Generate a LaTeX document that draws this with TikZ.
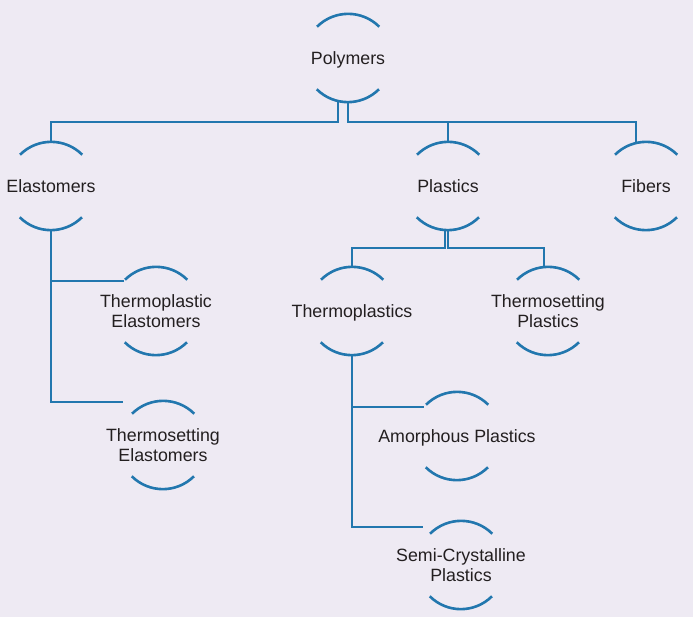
\documentclass[tikz,border=0pt]{standalone}
\usepackage{fontspec}
\setmainfont{Liberation Sans}
\usetikzlibrary{calc}
\definecolor{bgcol}{HTML}{EEEAF3}
\definecolor{linecol}{HTML}{2277AE}
\definecolor{txtcol}{HTML}{231F20}
\begin{document}
\begin{tikzpicture}[x=1pt,y=-1pt,
  bub/.style={circle, minimum size=88pt, inner sep=0pt, draw=none},
  every label/.style={align=center, text=txtcol, inner sep=0pt,
    font=\fontsize{17.8pt}{20.5pt}\selectfont},
  oneline/.style={text depth=0pt},
  arcline/.style={draw=linecol, line width=2.6pt},
  conn/.style={draw=linecol, line width=2.6pt}]
  \fill[bgcol] (0,0) rectangle (693,617);
  \useasboundingbox (0,0) rectangle (693,617);

  % bubbles
  \node[bub, label={[oneline]center:{Polymers}}] (poly) at (348,58) {};
  \node[bub, label={[oneline]center:{Elastomers}}] (elas) at (51,186) {};
  \node[bub, label={[oneline]center:{Plastics}}] (plas) at (448,186) {};
  \node[bub, label={[oneline]center:{Fibers}}] (fib) at (646,186) {};
  \node[bub, label=center:{Thermoplastic\\Elastomers}] (tpe) at (156,311) {};
  \node[bub, label=center:{Thermosetting\\Elastomers}] (tse) at (163,445) {};
  \node[bub, label={[oneline]center:{Thermoplastics}}] (tp) at (352,311) {};
  \node[bub, label=center:{Thermosetting\\Plastics}] (tsp) at (548,311) {};
  \node[bub, label={[oneline]center:{Amorphous Plastics}}] (amor) at (457,436) {};
  \node[bub, label=center:{Semi-Crystalline\\Plastics}] (semi) at (461,565) {};

  % open arcs above and below each label
  \foreach \n in {poly,elas,plas,fib,tpe,tse,tp,tsp,amor,semi} {
    \draw[arcline] (\n.45) arc[start angle=45, end angle=135, radius=44pt];
    \draw[arcline] (\n.225) arc[start angle=225, end angle=315, radius=44pt];
  }

  % connectors
  \draw[conn] ($(poly.south)+(-10,0)$) -- ++(0,20) -| (elas.north);
  \draw[conn] (poly.south) -- ++(0,20) -| (plas.north);
  \draw[conn] (poly.south) -- ++(0,20) -| (fib.103);

  \draw[conn] ($(plas.south)+(-3,0)$) -- ++(0,18) -| (tp.north);
  \draw[conn] (plas.south) -- ++(0,18) -| (tsp.95);

  \draw[conn] (elas.south) |- (tpe.137);
  \draw[conn] (elas.south) |- ($(tse.north)+(-40,1)$);

  \draw[conn] (tp.south) |- (amor.139);
  \draw[conn] (tp.south) |- ($(semi.north)+(-38,6)$);
\end{tikzpicture}
\end{document}
